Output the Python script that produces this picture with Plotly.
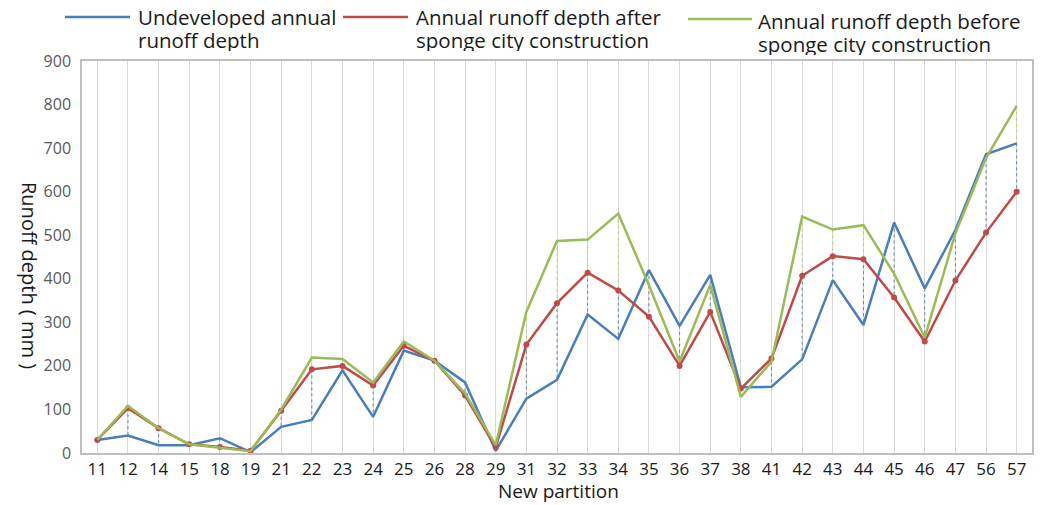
import plotly.graph_objects as go

categories = ["11", "12", "14", "15", "18", "19", "21", "22", "23", "24", "25", "26", "28", "29", "31",
              "32", "33", "34", "35", "36", "37", "38", "41", "42", "43", "44", "45", "46", "47", "56", "57"]
undeveloped = [30, 40, 18, 18, 34, 2, 60, 76, 190, 83, 235, 212, 162, 5, 125,
               168, 318, 262, 420, 292, 409, 151, 152, 215, 397, 294, 529, 378, 512, 686, 711]
after = [30, 103, 57, 20, 14, 5, 97, 192, 200, 155, 246, 212, 132, 13, 249,
         344, 414, 373, 313, 200, 324, 148, 217, 407, 452, 445, 357, 256, 396, 506, 600]
before = [30, 108, 57, 20, 12, 4, 100, 219, 216, 162, 256, 212, 137, 18, 324,
          487, 490, 550, 385, 210, 386, 129, 210, 543, 513, 523, 412, 265, 504, 677, 797]

legend_lines = [["Undeveloped annual", "runoff depth"],
                ["Annual runoff depth after", "sponge city construction"],
                ["Annual runoff depth before", "sponge city construction"]]
names = [" ".join(l) for l in legend_lines]
colors = ["#4A7EBB", "#BE4B48", "#9BBB59"]
drop_colors = {"blue": "#5E84AE", "green": "#C2CC78"}

FONT = "Open Sans, Noto Sans, sans-serif"
W, H = 1053, 505
ML, MR, MT, MB = 82, 21, 61, 52
PW, PH = W - ML - MR, H - MT - MB


def px_x(px):
    return (px - ML) / PW


def px_y(py):
    return (H - MB - py) / PH


fig = go.Figure()

# high-low dashed drop lines, built from the series values
series = [undeveloped, after, before]
seg_x = {"blue": [], "green": []}
seg_y = {"blue": [], "green": []}
for i, c in enumerate(categories):
    vals = sorted([(series[k][i], k) for k in range(3)], reverse=True)
    for j, ((v_hi, k_hi), (v_lo, _)) in enumerate(zip(vals[:-1], vals[1:])):
        if v_hi - v_lo > 4:
            key = "green" if (j == 0 and k_hi == 2) else "blue"
            seg_x[key] += [c, c, None]
            seg_y[key] += [v_hi, v_lo, None]
for key in ("blue", "green"):
    fig.add_trace(go.Scatter(x=seg_x[key], y=seg_y[key], mode="lines", showlegend=False,
                             hoverinfo="skip",
                             line=dict(color=drop_colors[key], width=1, dash="3px,3px")))

fig.add_trace(go.Scatter(x=categories, y=undeveloped, mode="lines", name=names[0],
                         line=dict(color=colors[0], width=2.5)))
fig.add_trace(go.Scatter(x=categories, y=after, mode="lines+markers", name=names[1],
                         line=dict(color=colors[1], width=2.5),
                         marker=dict(symbol="circle", size=6, color=colors[1])))
fig.add_trace(go.Scatter(x=categories, y=before, mode="lines", name=names[2],
                         line=dict(color=colors[2], width=2.5)))

# legend drawn as shapes + text (positions in pixels)
leg_sample = [(65, 130, 17), (343, 408, 17), (688, 752, 19)]
leg_text = [(137, 17, 40), (415, 17, 40), (757, 20, 43)]
shapes = []
annotations = []
for k in range(3):
    x0, x1, yy = leg_sample[k]
    shapes.append(dict(type="line", xref="paper", yref="paper",
                       x0=px_x(x0), x1=px_x(x1), y0=px_y(yy), y1=px_y(yy),
                       line=dict(color=colors[k], width=2.5)))
    tx, y1, y2 = leg_text[k]
    for line_txt, ty in zip(legend_lines[k], (y1, y2)):
        annotations.append(dict(text=line_txt, showarrow=False, xref="paper", yref="paper",
                                x=px_x(tx), y=px_y(ty), xanchor="left", yanchor="middle",
                                height=23, valign="middle", borderpad=0,
                                font=dict(size=20.5, color="#1a1a1a", family=FONT)))

annotations.append(dict(text="Runoff depth ( mm )", textangle=90, showarrow=False,
                        xref="paper", yref="paper", x=px_x(30), y=px_y(275),
                        xanchor="center", yanchor="middle",
                        font=dict(size=20, color="#1a1a1a", family=FONT)))
annotations.append(dict(text="New partition", showarrow=False,
                        xref="paper", yref="paper", x=px_x(558), y=px_y(491),
                        xanchor="center", yanchor="middle",
                        font=dict(size=19, color="#1a1a1a", family=FONT)))

fig.update_layout(
    width=W, height=H,
    margin=dict(l=ML, r=MR, t=MT, b=MB, autoexpand=False),
    paper_bgcolor="white", plot_bgcolor="white",
    font=dict(family=FONT, color="#1a1a1a"),
    showlegend=False,
    xaxis=dict(
        type="category", categoryorder="array", categoryarray=categories,
        range=[-0.5, len(categories) - 0.5], automargin=False,
        showgrid=True, gridcolor="#D9D9D9", gridwidth=1,
        showline=True, linecolor="#BFBFBF", linewidth=1.5, mirror=True,
        ticks="", tickfont=dict(size=17, color="#1a1a1a"),
        fixedrange=True,
    ),
    yaxis=dict(
        range=[0, 900], dtick=100, tick0=0, automargin=False,
        showgrid=False, zeroline=False,
        showline=True, linecolor="#BFBFBF", linewidth=1.5, mirror=True,
        ticks="", tickfont=dict(size=16, color="#595959"), ticklabelstandoff=6,
        fixedrange=True,
    ),
    shapes=shapes,
    annotations=annotations,
)

fig.write_html("out.html", config={"displayModeBar": False},
               post_script="document.body.style.margin='0';document.body.style.overflow='hidden';")
